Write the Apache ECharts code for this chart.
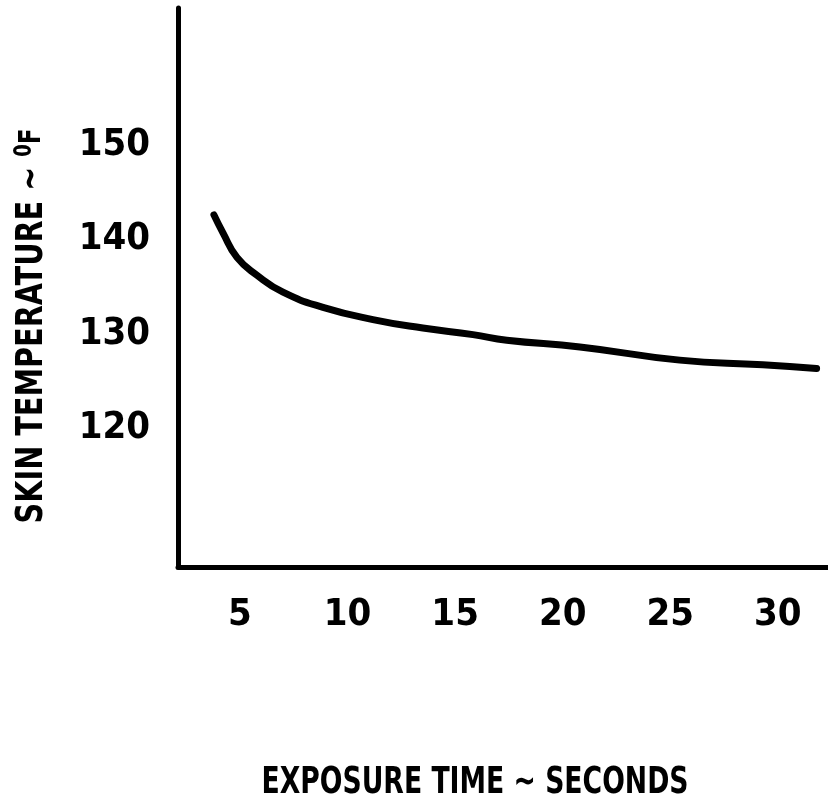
<!DOCTYPE html>
<html>
<head>
<meta charset="utf-8">
<script src="https://cdn.jsdelivr.net/npm/echarts@6/dist/echarts.min.js"></script>
<style>
html,body{margin:0;padding:0;background:#fff;}
#chart{width:828px;height:806px;}
</style>
</head>
<body>
<div id="chart"></div>
<script>
// Exposure time (seconds) vs skin temperature (°F)
var exposureTime = [3.79, 4.21, 4.86, 5.79, 7.0, 8.86, 11.18, 13.5, 15.83, 17.4, 20.8, 25.44, 29.3, 31.8];
var skinTemp     = [142.6, 140.7, 138.1, 136.2, 134.4, 132.8, 131.5, 130.6, 129.9, 129.3, 128.6, 127.2, 126.7, 126.3];
var xTicks = [5, 10, 15, 20, 25, 30];
var yTicks = [120, 130, 140, 150];
var xTitle = 'EXPOSURE TIME \u223C SECONDS';
var yTitle = 'SKIN TEMPERATURE \u223C ';

var FONT = "'Liberation Sans Narrow', 'DejaVu Sans Condensed', sans-serif";
var points = exposureTime.map(function (x, i) { return [x, skinTemp[i]]; });

var chart = echarts.init(document.getElementById('chart'), null, {renderer: 'canvas'});
chart.setOption({
  animation: false,
  backgroundColor: '#ffffff',
  grid: {left: 178, right: 0, top: 8, bottom: 239, containLabel: false},
  xAxis: {
    type: 'value', min: 2.12, max: 32.33,
    axisLine: {show: true, onZero: false, lineStyle: {color: '#000', width: 5, cap: 'round'}},
    axisTick: {show: false},
    splitLine: {show: false},
    axisLabel: {
      customValues: xTicks, margin: 29,
      color: '#000', fontFamily: FONT, fontWeight: 'bold', fontSize: 38
    }
  },
  yAxis: {
    type: 'value', min: 105.26, max: 164.54,
    axisLine: {show: true, onZero: false, lineStyle: {color: '#000', width: 5, cap: 'round'}},
    axisTick: {show: false},
    splitLine: {show: false},
    axisLabel: {
      customValues: yTicks, margin: 28,
      color: '#000', fontFamily: FONT, fontWeight: 'bold', fontSize: 38
    }
  },
  series: [{
    type: 'line', data: points, smooth: 0.5, symbol: 'none',
    lineStyle: {color: '#000', width: 7, cap: 'round', join: 'round'}
  }],
  graphic: [
    {
      type: 'text', x: 475, y: 783, scaleX: 0.78,
      style: {text: xTitle, fill: '#000', font: 'bold 38px ' + FONT, align: 'center', verticalAlign: 'middle'}
    },
    {
      type: 'text', x: 32, y: 326, rotation: Math.PI / 2, scaleX: 0.84,
      style: {
        text: yTitle + '{sup|0}{f|F}', fill: '#000', font: 'bold 38px ' + FONT,
        align: 'center', verticalAlign: 'middle',
        rich: {
          sup: {fontFamily: FONT, fontWeight: 'bold', fontSize: 24, verticalAlign: 'top', padding: [0, 0, 14, 0], fill: '#000'},
          f: {fontFamily: FONT, fontWeight: 'bold', fontSize: 30, fill: '#000'}
        }
      }
    }
  ]
});
</script>
</body>
</html>
